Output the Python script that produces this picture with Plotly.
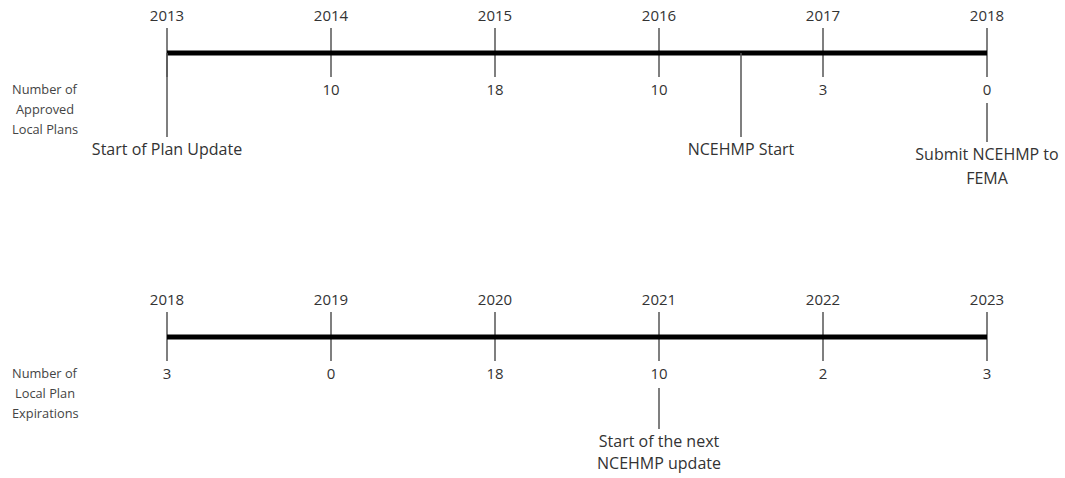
"""Local plan approval / expiration timelines."""
import plotly.graph_objects as go

# data
top_years = [2013, 2014, 2015, 2016, 2017, 2018]
top_counts = [None, 10, 18, 10, 3, 0]
top_event_x = [2013, 2016.5, 2018]
top_event_text = ['Start of Plan Update', 'NCEHMP Start', 'Submit NCEHMP to<br>FEMA']

bottom_years = [2018, 2019, 2020, 2021, 2022, 2023]
bottom_counts = [3, 0, 18, 10, 2, 3]
bottom_event_x = [2021]
bottom_event_text = ['Start of the next<br>NCEHMP update']

W, H = 1065, 478
PX_PER_YEAR = 164
LEFT_PX = 167
FONT = 'Open Sans'
TXT = '#333333'
TICK = '#555555'


def x_range(start):
    return [start - LEFT_PX / PX_PER_YEAR, start + (W - LEFT_PX) / PX_PER_YEAR]


def add_timeline(fig, xref, years, counts, line_y, events_x, events_text, event_rows, gap):
    # tick marks through the main line
    tx, ty = [], []
    for yr in years:
        tx += [yr, yr, None]
        ty += [line_y - 25, line_y + 24, None]
    fig.add_trace(go.Scatter(x=tx, y=ty, mode='lines', xaxis=xref,
                             line=dict(color=TICK, width=1.5), hoverinfo='skip'))
    # main line
    fig.add_trace(go.Scatter(x=[years[0], years[-1]], y=[line_y, line_y], mode='lines',
                             xaxis=xref, line=dict(color='black', width=5), hoverinfo='skip'))
    # year labels
    fig.add_trace(go.Scatter(x=years, y=[line_y - 36] * len(years), mode='text',
                             text=[str(y) for y in years], xaxis=xref, cliponaxis=False,
                             textfont=dict(family=FONT, size=15, color=TXT), hoverinfo='skip'))
    # counts
    cx = [y for y, c in zip(years, counts) if c is not None]
    cv = [str(c) for c in counts if c is not None]
    fig.add_trace(go.Scatter(x=cx, y=[line_y + 38] * len(cx), mode='text', text=cv, xaxis=xref,
                             cliponaxis=False,
                             textfont=dict(family=FONT, size=15, color=TXT), hoverinfo='skip'))
    # event callouts
    ex, ey = [], []
    lx, ly, lt = [], [], []
    for x, text, (y0, y1) in zip(events_x, events_text, event_rows):
        ex += [x, x, None]
        ey += [y0, y1, None]
        for i, part in enumerate(text.split('<br>')):
            lx.append(x)
            ly.append(y1 + 14 + i * gap)
            lt.append(part)
    fig.add_trace(go.Scatter(x=ex, y=ey, mode='lines', xaxis=xref,
                             line=dict(color=TICK, width=1.5), hoverinfo='skip'))
    fig.add_trace(go.Scatter(x=lx, y=ly, mode='text', text=lt, xaxis=xref, cliponaxis=False,
                             textfont=dict(family=FONT, size=16, color=TXT), hoverinfo='skip'))


fig = go.Figure()

add_timeline(fig, 'x', top_years, top_counts, 53, top_event_x, top_event_text,
             [(53, 137), (53, 137), (103, 142)], 24)
add_timeline(fig, 'x2', bottom_years, bottom_counts, 337, bottom_event_x, bottom_event_text,
             [(388, 429)], 22)

side_labels = [
    (89, 'Number of'), (109, 'Approved'), (129, 'Local Plans'),
    (373, 'Number of'), (393, 'Local Plan'), (413, 'Expirations'),
]
for y, text in side_labels:
    fig.add_annotation(x=45 / W, y=y, xref='paper', yref='y', text=text,
                       xanchor='center', showarrow=False,
                       font=dict(family=FONT, size=12.8, color='#444444'))

axis_style = dict(visible=False, showgrid=False, zeroline=False, fixedrange=True)
fig.update_layout(
    width=W, height=H,
    margin=dict(l=0, r=0, t=0, b=0),
    paper_bgcolor='white', plot_bgcolor='white',
    showlegend=False,
    xaxis=dict(range=x_range(top_years[0]), domain=[0, 1], **axis_style),
    xaxis2=dict(range=x_range(bottom_years[0]), domain=[0, 1], overlaying='x', **axis_style),
    yaxis=dict(range=[H, 0], **axis_style),
)

# drop the default body margin so the figure sits flush in the window
fig.write_html("out.html", config={'displayModeBar': False},
               post_script="document.body.style.margin = '0';")
